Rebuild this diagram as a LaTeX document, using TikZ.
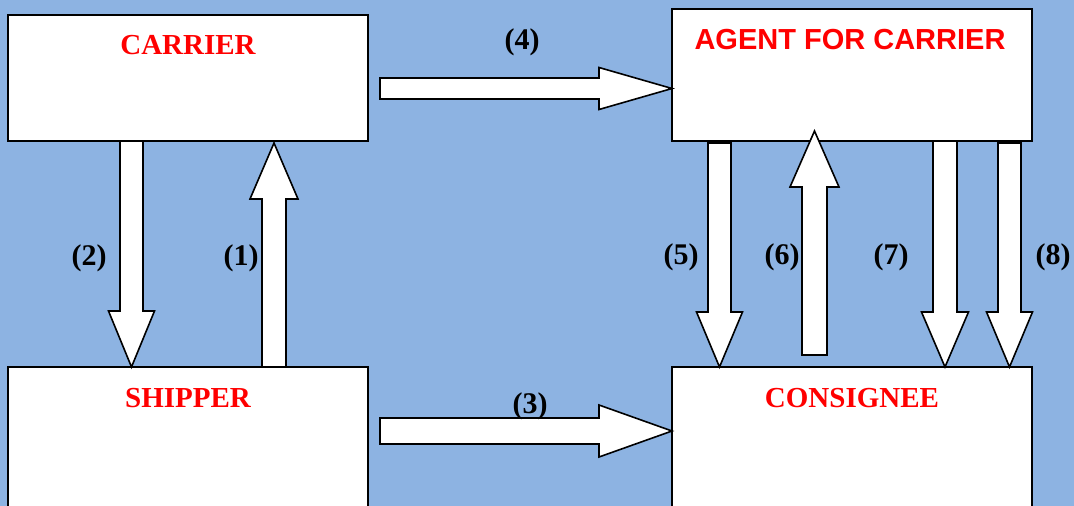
\documentclass[tikz,border=0pt]{standalone}
\usepackage{fontspec}
\setmainfont{Liberation Serif}
\newfontfamily\arialfont{Liberation Sans}
\definecolor{bgblue}{RGB}{141,179,226}
\definecolor{labelred}{RGB}{255,0,0}
\tikzset{
  box/.style={draw=black, line width=1.8pt, fill=white},
  blk/.style={draw=black, line width=1.6pt, fill=white, line join=miter},
  title/.style={text=labelred, font=\fontsize{29}{34}\selectfont\bfseries, anchor=base, inner sep=0pt},
  titlesans/.style={text=labelred, font=\fontsize{29}{34}\selectfont\arialfont\bfseries, anchor=base, inner sep=0pt},
  num/.style={text=black, font=\fontsize{30}{36}\selectfont\bfseries, anchor=base, inner sep=0pt}
}
% vertical block arrow: #1 x centre, #2 y of tail, #3 y of head base, #4 y of tip, #5 shaft half width, #6 head half width
\newcommand\vblk[6]{%
  \draw[blk] (#1-#5,#2) -- (#1-#5,#3) -- (#1-#6,#3) -- (#1,#4) -- (#1+#6,#3) -- (#1+#5,#3) -- (#1+#5,#2) -- cycle;}
% horizontal block arrow: #1 y centre, #2 x of tail, #3 x of head base, #4 x of tip, #5 shaft half width, #6 head half width
\newcommand\hblk[6]{%
  \draw[blk] (#2,#1-#5) -- (#3,#1-#5) -- (#3,#1-#6) -- (#4,#1) -- (#3,#1+#6) -- (#3,#1+#5) -- (#2,#1+#5) -- cycle;}
\begin{document}
\begin{tikzpicture}[x=1pt,y=-1pt]
\fill[bgblue] (0,0) rectangle (1074,506);
\useasboundingbox (0,0) rectangle (1074,506);
% boxes
\draw[box] (8,15) rectangle (368,141);
\draw[box] (672,9) rectangle (1032,141);
\draw[box] (8,367) rectangle (368,520);
\draw[box] (672,367) rectangle (1032,520);
% titles
\node[title] (tcarrier) at (188,54) {CARRIER};
\node[titlesans] (tagent) at (850,49) {AGENT FOR CARRIER};
\node[title] (tshipper) at (188,407) {SHIPPER};
\node[title] (tconsignee) at (852,407) {CONSIGNEE};
% arrows
\vblk{131.5}{141}{311}{367}{11.5}{23}   % (2)
\vblk{274}{367}{199}{143}{12}{24}       % (1)
\hblk{88.5}{380}{599}{672}{10.5}{21}    % (4)
\hblk{431}{380}{599}{672}{13}{26}       % (3)
\vblk{719.5}{143}{312}{367}{11.5}{23}   % (5)
\vblk{814.5}{355}{187}{131}{12.5}{24.5} % (6)
\vblk{945}{141}{312}{367}{12}{23.5}     % (7)
\vblk{1009.5}{143}{312}{367}{11.5}{23}  % (8)
% numbers
\node[num] (n4) at (522,49) {(4)};
\node[num] (n2) at (89,265) {(2)};
\node[num] (n1) at (241,265) {(1)};
\node[num] (n3) at (530,413) {(3)};
\node[num] (n5) at (681,264) {(5)};
\node[num] (n6) at (782,264) {(6)};
\node[num] (n7) at (891,264) {(7)};
\node[num] (n8) at (1053,264) {(8)};
\end{tikzpicture}
\end{document}
